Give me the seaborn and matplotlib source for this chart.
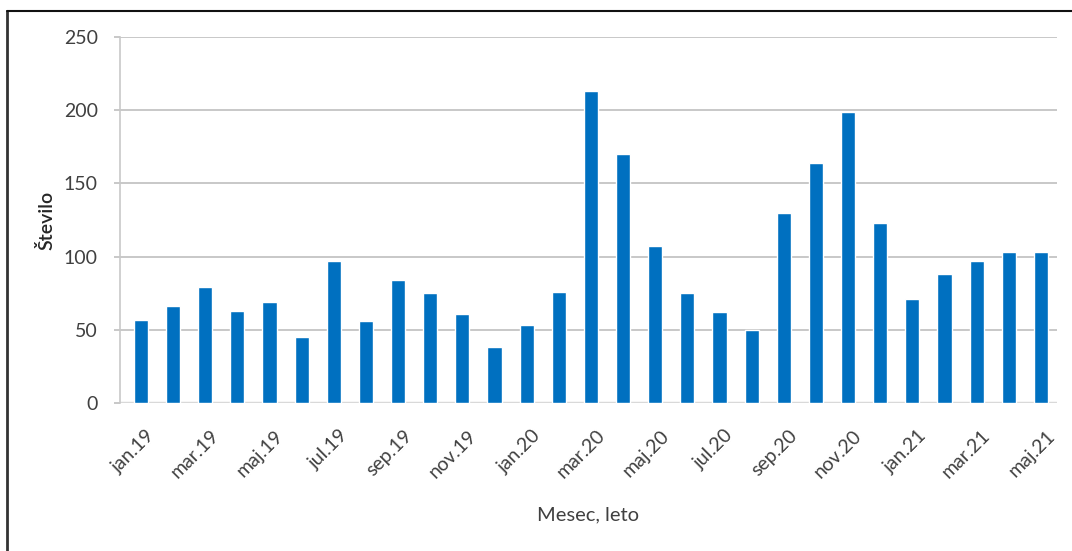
import matplotlib
matplotlib.use("Agg")
import matplotlib.pyplot as plt
from matplotlib.lines import Line2D
from matplotlib.transforms import ScaledTranslation
import seaborn as sns
import pandas as pd

# Monthly counts, January 2019 – May 2021
months = [
    "jan.19", "feb.19", "mar.19", "apr.19", "maj.19", "jun.19", "jul.19", "avg.19",
    "sep.19", "okt.19", "nov.19", "dec.19",
    "jan.20", "feb.20", "mar.20", "apr.20", "maj.20", "jun.20", "jul.20", "avg.20",
    "sep.20", "okt.20", "nov.20", "dec.20",
    "jan.21", "feb.21", "mar.21", "apr.21", "maj.21",
]
counts = [
    57, 66, 79, 63, 69, 45, 97, 56, 84, 75, 61, 38,
    53, 76, 213, 170, 107, 75, 62, 50, 130, 164, 199, 123,
    71, 88, 97, 103, 103,
]
y_ticks = [0, 50, 100, 150, 200, 250]
x_label = "Mesec, leto"
y_label = "Število"

df = pd.DataFrame({"mesec": months, "stevilo": counts})

sns.set_theme(style="white")
plt.rcParams["font.family"] = ["Lato", "DejaVu Sans"]

text_color = "#404040"
grid_color = "#bfbfbf"

fig = plt.figure(figsize=(10.72, 5.51), dpi=100)
ax = fig.add_axes([0.1119, 0.2686, 0.8741, 0.6642])

sns.barplot(data=df, x="mesec", y="stevilo", color="#0070C0", width=0.44,
            saturation=1, ax=ax, zorder=3)

ax.set_xlim(-0.65, len(months) - 0.5)
ax.set_ylim(0, 250)
ax.set_yticks(y_ticks)
ax.set_yticklabels([str(v) for v in y_ticks], fontsize=14, color=text_color)

# gridlines
for v in y_ticks[1:]:
    ax.axhline(v, color=grid_color, lw=1.2, zorder=1)
ax.axhline(0, color="#d9d9d9", lw=2.5, zorder=2)

for s in ["top", "right", "bottom"]:
    ax.spines[s].set_visible(False)
ax.spines["left"].set_color("#c8c8c8")
ax.spines["left"].set_linewidth(1.2)
ax.tick_params(axis="y", left=True, length=4, width=1.2, color=grid_color, pad=12)
ax.tick_params(axis="x", bottom=False, pad=4)

tick_pos = list(range(0, len(months), 2))
ax.set_xticks(tick_pos)
ax.set_xticklabels([months[i] for i in tick_pos], rotation=45, ha="right",
                   rotation_mode="anchor", fontsize=14, color=text_color)
shift = ScaledTranslation(5 / 100, -10 / 100, fig.dpi_scale_trans)
for lbl in ax.get_xticklabels():
    lbl.set_transform(lbl.get_transform() + shift)

ax.set_xlabel(x_label, fontsize=14.5, color=text_color, labelpad=18)
ax.set_ylabel(y_label, fontsize=14, color="#262626", fontweight="semibold", labelpad=6)

# frame lines along the top and left edges
fig.add_artist(Line2D([7 / 1072, 7 / 1072], [0, 1 - 11 / 551], transform=fig.transFigure,
                      color="#333333", lw=2))
fig.add_artist(Line2D([7 / 1072, 1], [1 - 11 / 551, 1 - 11 / 551], transform=fig.transFigure,
                      color="#111111", lw=1.5))

fig.savefig("out.png", dpi=100)
